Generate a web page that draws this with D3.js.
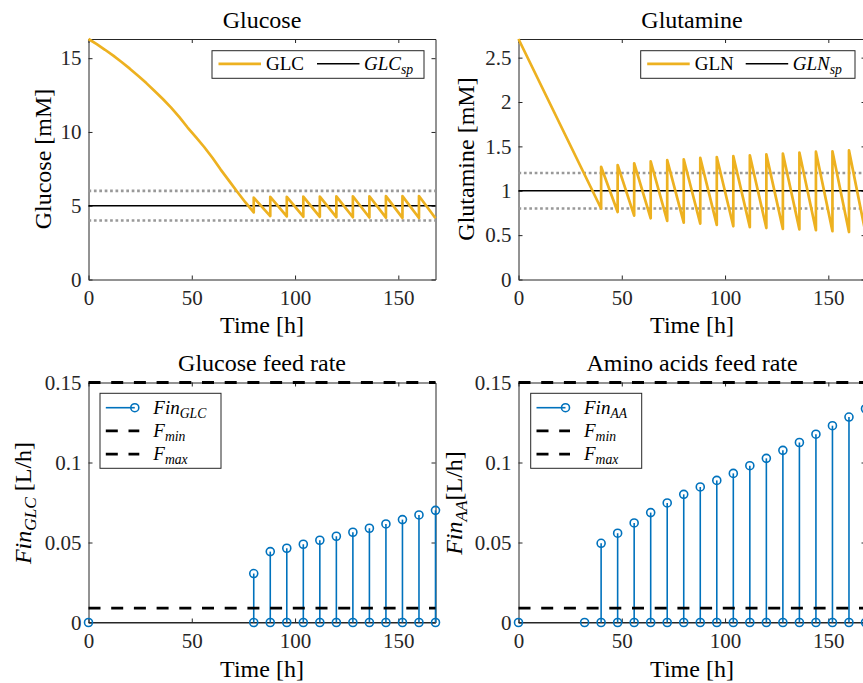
<!DOCTYPE html>
<html>
<head>
<meta charset="utf-8">
<script src="https://cdn.jsdelivr.net/npm/d3@7"></script>
<style>
  body { margin: 0; background: #fff; }
  svg { display: block; }
  text { font-family: "Liberation Serif", Tinos, "Times New Roman", "DejaVu Serif", serif; }
</style>
</head>
<body>
<svg id="chart" width="863" height="683"></svg>
<script>
// ---------------- data ----------------
// Glucose concentration [mM] (repeated times mark instantaneous feed pulses)
const glcTime = [0, 4, 8, 12, 16, 20, 24, 28, 32, 36, 40, 44, 48, 52, 56, 60, 64, 68, 72, 76, 80,
  80, 88, 88, 96, 96, 104, 104, 112, 112, 120, 120, 128, 128, 136, 136, 144, 144, 152, 152, 160, 160, 168];
const glcValue = [16.3, 15.95, 15.57, 15.17, 14.74, 14.29, 13.81, 13.31, 12.78, 12.23, 11.65, 11.0, 10.3, 9.65, 8.98, 8.25, 7.45, 6.7, 5.95, 5.22, 4.55,
  5.55, 4.3, 5.6, 4.28, 5.6, 4.26, 5.62, 4.25, 5.62, 4.23, 5.63, 4.22, 5.64, 4.2, 5.64, 4.19, 5.65, 4.18, 5.65, 4.17, 5.66, 4.15];
const glcSetpoint = 5;
const glcBand = [4, 6];

// Glutamine concentration [mM]
const glnTime = [0, 40, 40, 48, 48, 56, 56, 64, 64, 72, 72, 80, 80, 88, 88, 96, 96, 104, 104,
  112, 112, 120, 120, 128, 128, 136, 136, 144, 144, 152, 152, 160, 160, 168];
const glnValue = [2.71, 0.8, 1.27, 0.76, 1.29, 0.72, 1.31, 0.69, 1.33, 0.66, 1.345, 0.64, 1.355, 0.63, 1.37,
  0.615, 1.38, 0.6, 1.39, 0.59, 1.4, 0.58, 1.41, 0.57, 1.42, 0.565, 1.43, 0.555, 1.44, 0.545, 1.445, 0.535, 1.455, 0.525];
const glnSetpoint = 1;
const glnBand = [0.8, 1.2];

// Feed rates [L/h]
const glcFeedTime = [0, 80, 88, 96, 104, 112, 120, 128, 136, 144, 152, 160, 168];
const glcFeedRate = [0, 0.0306, 0.0443, 0.0464, 0.0489, 0.0514, 0.0539, 0.0564, 0.0589, 0.0616, 0.0643, 0.0672, 0.0701];
const aaFeedTime = [0, 32, 40, 48, 56, 64, 72, 80, 88, 96, 104, 112, 120, 128, 136, 144, 152, 160, 168];
const aaFeedRate = [0, 0, 0.0495, 0.0558, 0.0622, 0.0687, 0.0747, 0.0801, 0.0847, 0.0888, 0.0932, 0.098,
  0.1026, 0.1076, 0.1125, 0.1177, 0.123, 0.1284, 0.1336];
const fMin = 0.009;
const fMax = 0.15;

// Axis ticks
const timeDomain = [0, 168];
const timeTicks = [0, 50, 100, 150];
const glcTicks = [0, 5, 10, 15];
const glnTicks = [0, 0.5, 1, 1.5, 2, 2.5];
const feedTicks = [0, 0.05, 0.1, 0.15];

// ---------------- styling ----------------
const FONT = '"Liberation Serif", Tinos, "Times New Roman", "DejaVu Serif", serif';
const AXIS = "#262626";
const ORANGE = "#EDB120";
const BLUE = "#0072BD";
const BAND = "#999999";
const DASH = "12,10.7";
const DOT = "2.7,2.7";

const svg = d3.select("#chart");

// rich text: array of {t, it, sub}
function rich(sel, parts, size) {
  let shifted = false;
  parts.forEach(p => {
    const ts = sel.append("tspan").text(p.t);
    if (p.it) ts.attr("font-style", "italic");
    if (p.sub) {
      ts.attr("font-size", size * 0.72).attr("dy", size * 0.22);
      shifted = true;
    } else {
      ts.attr("font-size", size);
      if (shifted) { ts.attr("dy", -size * 0.22); shifted = false; }
    }
  });
  return sel;
}

function drawAxes(x, y, yTicks) {
  const [x0, x1] = x.range();
  const [y0, y1] = y.range();
  const g = svg.append("g");
  const style = sel => {
    sel.attr("font-family", FONT).attr("font-size", 21);
    sel.select(".domain").attr("stroke", AXIS).attr("stroke-width", 1);
    sel.selectAll(".tick line").attr("stroke", AXIS).attr("stroke-width", 1);
    sel.selectAll(".tick text").attr("fill", AXIS);
  };
  g.append("g").attr("transform", `translate(0,${y0})`)
    .call(d3.axisBottom(x).tickValues(timeTicks).tickSizeInner(-4).tickSizeOuter(0).tickPadding(11).tickFormat(String))
    .call(style);
  g.append("g").attr("transform", `translate(0,${y1})`)
    .call(d3.axisTop(x).tickValues(timeTicks).tickSizeInner(-4).tickSizeOuter(0).tickFormat(() => ""))
    .call(style);
  g.append("g").attr("transform", `translate(${x0},0)`)
    .call(d3.axisLeft(y).tickValues(yTicks).tickSizeInner(-4).tickSizeOuter(0).tickPadding(7).tickFormat(String))
    .call(style);
  g.append("g").attr("transform", `translate(${x1},0)`)
    .call(d3.axisRight(y).tickValues(yTicks).tickSizeInner(-4).tickSizeOuter(0).tickFormat(() => ""))
    .call(style);
}

function title(txt, cx, by) {
  svg.append("text").attr("x", cx).attr("y", by).attr("text-anchor", "middle")
    .attr("font-size", 24).attr("fill", "#000").text(txt);
}
function xLabel(cx, by) {
  svg.append("text").attr("x", cx).attr("y", by).attr("text-anchor", "middle")
    .attr("font-size", 24).attr("fill", "#000").text("Time [h]");
}
function yLabel(parts, bx, cy) {
  const t = svg.append("text").attr("transform", `translate(${bx},${cy}) rotate(-90)`)
    .attr("text-anchor", "middle").attr("fill", "#000");
  rich(t, parts, 24);
}
function hLine(x, y, v, color, width, dash) {
  const l = svg.append("line")
    .attr("x1", x(timeDomain[0])).attr("x2", x(timeDomain[1]))
    .attr("y1", y(v)).attr("y2", y(v))
    .attr("stroke", color).attr("stroke-width", width);
  if (dash) l.attr("stroke-dasharray", dash);
}

// ---------- concentration panels ----------
function concPanel(opts) {
  const x = d3.scaleLinear().domain(timeDomain).range([opts.left, opts.left + 347]);
  const y = d3.scaleLinear().domain([0, d3.max(opts.values)]).range([279.5, 39]);
  drawAxes(x, y, opts.ticks);
  opts.band.forEach(b => hLine(x, y, b, BAND, 2.7, DOT));
  hLine(x, y, opts.setpoint, "#000", 1.5);
  const line = d3.line().x(d => x(d[0])).y(d => y(d[1]));
  svg.append("path").datum(opts.times.map((t, i) => [t, opts.values[i]]))
    .attr("d", line).attr("fill", "none").attr("stroke", ORANGE)
    .attr("stroke-width", 2.7).attr("stroke-linejoin", "round");

  const cx = opts.left + 173.5;
  title(opts.title, cx, 28);
  xLabel(cx, 333);
  yLabel(opts.ylabel, opts.ylabelX, 159);

  // legend
  const L = opts.legend;
  const lg = svg.append("g");
  lg.append("rect").attr("x", L.x).attr("y", 50.7).attr("width", L.w).attr("height", 27.6)
    .attr("fill", "#fff").attr("stroke", AXIS).attr("stroke-width", 1);
  lg.append("line").attr("x1", L.x + 6.5).attr("x2", L.x + 49).attr("y1", 63.8).attr("y2", 63.8)
    .attr("stroke", ORANGE).attr("stroke-width", 2.7);
  rich(lg.append("text").attr("x", L.x + 54).attr("y", 70).attr("fill", "#000"),
    [{ t: opts.name }], 19);
  lg.append("line").attr("x1", L.x + 105).attr("x2", L.x + 147.5).attr("y1", 63.8).attr("y2", 63.8)
    .attr("stroke", "#000").attr("stroke-width", 1.5);
  rich(lg.append("text").attr("x", L.x + 152).attr("y", 70).attr("fill", "#000"),
    [{ t: opts.name, it: true }, { t: "sp", it: true, sub: true }], 19);
}

concPanel({
  left: 88.5, times: glcTime, values: glcValue, ticks: glcTicks,
  band: glcBand, setpoint: glcSetpoint, title: "Glucose", name: "GLC",
  ylabel: [{ t: "Glucose [mM]" }], ylabelX: 51,
  legend: { x: 212, w: 212 }
});
concPanel({
  left: 518.5, times: glnTime, values: glnValue, ticks: glnTicks,
  band: glnBand, setpoint: glnSetpoint, title: "Glutamine", name: "GLN",
  ylabel: [{ t: "Glutamine [mM]" }], ylabelX: 474,
  legend: { x: 640.7, w: 214.3 }
});

// ---------- feed rate panels ----------
function feedPanel(opts) {
  const x = d3.scaleLinear().domain(timeDomain).range([opts.left, opts.left + 347]);
  const y = d3.scaleLinear().domain([0, fMax]).range([622.5, 382.5]);
  drawAxes(x, y, feedTicks);

  // stem baseline
  hLine(x, y, 0, AXIS, 1);
  const pts = opts.times.map((t, i) => ({ t, v: opts.rates[i] }));
  const g = svg.append("g");
  g.selectAll("line.stem").data(pts.filter(d => d.v > 0)).join("line")
    .attr("class", "stem")
    .attr("x1", d => x(d.t)).attr("x2", d => x(d.t))
    .attr("y1", y(0)).attr("y2", d => y(d.v))
    .attr("stroke", BLUE).attr("stroke-width", 1.6);
  const marks = pts.map(d => ({ t: d.t, v: 0 })).concat(pts.filter(d => d.v > 0));
  g.selectAll("circle").data(marks).join("circle")
    .attr("cx", d => x(d.t)).attr("cy", d => y(d.v)).attr("r", 4)
    .attr("fill", "none").attr("stroke", BLUE).attr("stroke-width", 1.6);

  hLine(x, y, fMin, "#000", 2.8, DASH);
  hLine(x, y, fMax, "#000", 2.8, DASH);

  const cx = opts.left + 173.5;
  title(opts.title, cx, 371);
  xLabel(cx, 677);
  yLabel(opts.ylabel, opts.ylabelX, 503);

  // legend
  const L = opts.legend;
  const lg = svg.append("g");
  lg.append("rect").attr("x", L.x).attr("y", 393.3).attr("width", L.w).attr("height", 75)
    .attr("fill", "#fff").attr("stroke", AXIS).attr("stroke-width", 1);
  const sx0 = L.x + 5.8, sx1 = L.x + 39.3, tx = L.x + 53.3;
  const rows = [407.7, 430.9, 454.1];
  lg.append("line").attr("x1", sx0).attr("x2", sx1 - 4.5).attr("y1", rows[0]).attr("y2", rows[0])
    .attr("stroke", BLUE).attr("stroke-width", 1.6);
  lg.append("circle").attr("cx", sx1 - 4.5).attr("cy", rows[0]).attr("r", 4)
    .attr("fill", "none").attr("stroke", BLUE).attr("stroke-width", 1.6);
  rich(lg.append("text").attr("x", tx).attr("y", rows[0] + 6).attr("fill", "#000"),
    [{ t: "Fin", it: true }, { t: opts.sub, it: true, sub: true }], 19);
  [["min", rows[1]], ["max", rows[2]]].forEach(([s, ry]) => {
    lg.append("line").attr("x1", sx0).attr("x2", sx1).attr("y1", ry).attr("y2", ry)
      .attr("stroke", "#000").attr("stroke-width", 2.8).attr("stroke-dasharray", DASH);
    rich(lg.append("text").attr("x", tx).attr("y", ry + 6).attr("fill", "#000"),
      [{ t: "F", it: true }, { t: s, it: true, sub: true }], 19);
  });
}

feedPanel({
  left: 88.5, times: glcFeedTime, rates: glcFeedRate, title: "Glucose feed rate", sub: "GLC",
  ylabel: [{ t: "Fin", it: true }, { t: "GLC", it: true, sub: true }, { t: " [L/h]" }], ylabelX: 31,
  legend: { x: 100, w: 121 }
});
feedPanel({
  left: 518.5, times: aaFeedTime, rates: aaFeedRate, title: "Amino acids feed rate", sub: "AA",
  ylabel: [{ t: "Fin", it: true }, { t: "AA", it: true, sub: true }, { t: "[L/h]" }], ylabelX: 462,
  legend: { x: 530.7, w: 111 }
});
</script>
</body>
</html>
